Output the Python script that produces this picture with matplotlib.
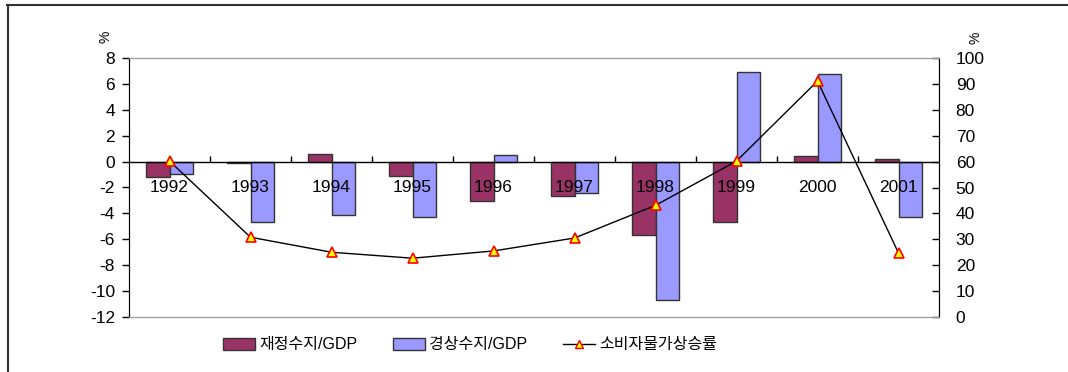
import numpy as np
import matplotlib
matplotlib.use("Agg")
import matplotlib.pyplot as plt
from matplotlib.patches import Patch
from matplotlib.lines import Line2D

plt.rcParams['font.family'] = ['Liberation Sans', 'Noto Sans CJK KR', 'DejaVu Sans']
plt.rcParams['axes.unicode_minus'] = False

years = ["1992", "1993", "1994", "1995", "1996", "1997", "1998", "1999", "2000", "2001"]
fiscal = [-1.2, -0.1, 0.56, -1.1, -3.05, -2.65, -5.7, -4.7, 0.4, 0.2]
current = [-0.95, -4.7, -4.15, -4.3, 0.5, -2.4, -10.65, 6.9, 6.8, -4.25]
cpi = [60.2, 30.8, 25.0, 22.7, 25.5, 30.5, 43.1, 60.2, 91.1, 24.7]
labels = ["재정수지/GDP", "경상수지/GDP", "소비자물가상승률"]

fiscal_color = "#993366"
current_color = "#9999FF"
edge = "#333333"

fig = plt.figure(figsize=(10.68, 3.72), dpi=100)
ax = fig.add_axes([129 / 1068, 55 / 372, 810 / 1068, 259 / 372])
ax2 = ax.twinx()

x = np.arange(len(years)) + 0.5
w = 0.29
ax.bar(x - w / 2, fiscal, w, color=fiscal_color, edgecolor=edge, linewidth=1, zorder=2)
ax.bar(x + w / 2, current, w, color=current_color, edgecolor=edge, linewidth=1, zorder=2)
ax.axhline(0, color="black", lw=1, zorder=3)
ax.vlines(np.arange(1, len(years)), 0, 0.45, color="black", lw=1, zorder=3)
for xi, yr in zip(x, years):
    ax.text(xi, -2.0, yr, ha="center", va="center", fontsize=12.5, zorder=4)

ax.set_xlim(0, len(years))
ax.set_ylim(-12, 8)
ax.set_yticks(np.arange(-12, 9, 2))
ax.set_xticks([])
ax.tick_params(axis="y", direction="out", length=5, width=1, pad=5, labelsize=12.5)

ax2.plot(x, cpi, color="black", lw=1, marker="^", markersize=7,
         markerfacecolor="#FFFF00", markeredgecolor="#FF0000", markeredgewidth=1.2, zorder=5)
ax2.set_ylim(0, 100)
ax2.set_yticks(np.arange(0, 101, 10))
ax2.tick_params(axis="y", direction="in", length=5, width=1, pad=12, labelsize=12.5)

for a in (ax, ax2):
    a.spines["top"].set_color("#999999")
    a.spines["bottom"].set_color("#999999")
    a.spines["left"].set_color("black")
    a.spines["right"].set_color("black")

fig.text(105 / 1068, 1 - 37 / 372, "%", rotation=90, ha="center", va="center", fontsize=10)
fig.text(975 / 1068, 1 - 38 / 372, "%", rotation=90, ha="center", va="center", fontsize=10)

handles = [
    Patch(facecolor=fiscal_color, edgecolor=edge, linewidth=1),
    Patch(facecolor=current_color, edgecolor=edge, linewidth=1),
    Line2D([], [], color="black", lw=1, marker="^", markersize=6,
           markerfacecolor="#FFFF00", markeredgecolor="#FF0000"),
]
fig.legend(handles, labels, loc="center", bbox_to_anchor=(470 / 1068, 1 - 345 / 372),
           ncol=3, frameon=False, fontsize=11.5, handlelength=2.0, handleheight=0.8,
           handletextpad=0.3, columnspacing=2.2)

# outer frame (top and left edges only)
fig.add_artist(Line2D([7 / 1068, 1], [1 - 4.5 / 372, 1 - 4.5 / 372], color="#333333", lw=1.5))
fig.add_artist(Line2D([7.5 / 1068, 7.5 / 1068], [0, 1 - 4.5 / 372], color="#333333", lw=1.5))

fig.savefig("out.png", dpi=100)
